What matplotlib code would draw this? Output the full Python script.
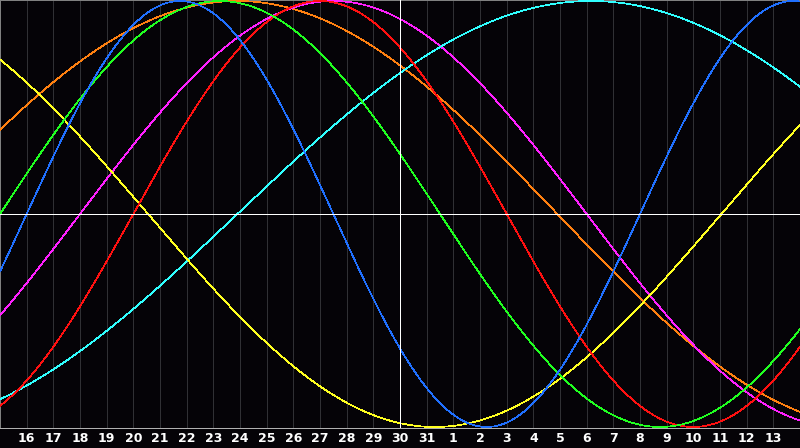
import numpy as np
import matplotlib
matplotlib.use("Agg")
import matplotlib.pyplot as plt

# day labels along the bottom (day index 1..29, index 0 is the 15th)
day_labels = [16, 17, 18, 19, 20, 21, 22, 23, 24, 25, 26, 27, 28, 29, 30, 31,
              1, 2, 3, 4, 5, 6, 7, 8, 9, 10, 11, 12, 13]
today_index = 15   # the "30" column with the white marker line

# cycles: length in days and the day index where each
# curve crosses the middle line going up
cycle_names = ["physical", "emotional", "intellectual", "intuitive",
               "aesthetic", "awareness", "spiritual"]
cycle_period = [23, 28, 33, 38, 43, 48, 53]
cycle_rising = [1.0, 5.0, 0.0, 3.0, -15.95, -3.1, 8.9]
cycle_colour = ["#2070ff", "#ff1010", "#20ff20", "#ff20ff",
                "#ffff20", "#ff8010", "#30ffff"]

n_days = 30
t = np.linspace(0, n_days, 1201)
px = 0.72  # one pixel in points at dpi 100

fig = plt.figure(figsize=(8, 4.48), dpi=100)
fig.patch.set_facecolor("#050307")
ax = fig.add_axes([0, 20 / 448, 1, 428 / 448])
ax.set_facecolor("#050307")

# day grid
for d in range(1, n_days):
    ax.axvline(d, color="#303034", lw=px, zorder=1, antialiased=False)

# draw each cycle
order = [5, 3, 6, 4, 1, 2, 0]
for i in order:
    y = np.sin(2 * np.pi * (t - cycle_rising[i]) / cycle_period[i])
    ax.plot(t, y, color=cycle_colour[i], lw=0.5, zorder=3,
            antialiased=False, label=cycle_names[i])

# centre lines
ax.axhline(0, color="white", lw=px, zorder=4, antialiased=False)
ax.axvline(today_index, color="white", lw=px, zorder=4, antialiased=False)

ax.set_xlim(0, n_days)
ax.set_ylim(-214 / 213, 214 / 213)
ax.set_yticks([])
ax.set_xticks(range(1, n_days))
ax.set_xticklabels([str(v) for v in day_labels], color="white",
                   fontsize=9, fontweight="bold", family="DejaVu Sans")
ax.tick_params(axis="x", length=0, pad=3)

ax.spines["right"].set_visible(False)
ax.spines["left"].set_color("#808080")
ax.spines["top"].set_color("#808080")
ax.spines["bottom"].set_color("#b0b0b0")
for s in ax.spines.values():
    s.set_linewidth(px)

fig.savefig("out.png", dpi=100, facecolor=fig.get_facecolor())
